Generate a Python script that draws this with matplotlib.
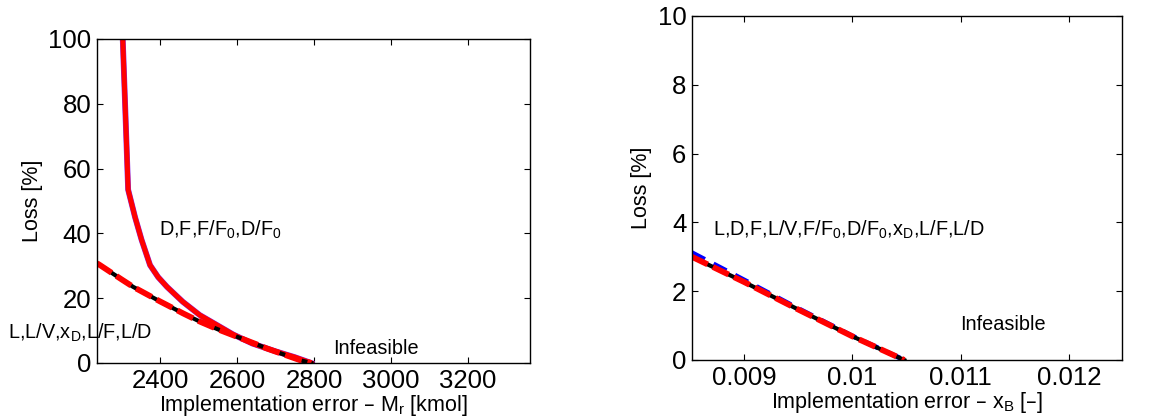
import numpy as np
import matplotlib.pyplot as plt

plt.rcParams['font.family'] = ['Liberation Sans', 'DejaVu Sans']
plt.rcParams['mathtext.default'] = 'regular'

# left panel: loss vs. implementation error in M_r
mr_upper = [2303, 2310, 2317, 2335, 2352, 2374, 2395, 2418, 2459, 2503, 2548, 2590, 2640, 2700, 2750, 2793]
loss_upper = [100, 77, 53.5, 45, 38, 30.2, 26.5, 23.5, 18.9, 14.8, 11.7, 8.8, 6.0, 3.6, 1.8, 0.0]
mr_lower = [2236, 2244, 2300, 2330, 2400, 2418, 2460, 2503, 2550, 2600, 2650, 2677, 2720, 2763, 2793]
loss_lower = [30.8, 30.2, 25.8, 23.5, 19.0, 17.9, 15.3, 12.8, 10.4, 8.1, 5.8, 4.5, 2.7, 0.9, 0.0]

# right panel: loss vs. implementation error in x_B
xb = [0.00852, 0.0090, 0.0095, 0.0100, 0.01048]
loss_xb_red = [3.0, 2.27, 1.47, 0.69, 0.0]
loss_xb_blue = [3.12, 2.33, 1.50, 0.70, 0.0]

fig = plt.figure(figsize=(11.57, 4.17), dpi=100)
ax1 = fig.add_axes([0.0838, 0.1295, 0.3742, 0.777])
ax2 = fig.add_axes([0.598, 0.1367, 0.3717, 0.825])

# left
ax1.plot(mr_upper, loss_upper, color='#8a2be2', lw=4.2)
ax1.plot(mr_upper, loss_upper, color='red', lw=3.6)
ax1.plot(mr_lower, loss_lower, color='black', lw=3)
ax1.plot(mr_lower, loss_lower, color='red', lw=4.2, ls=(0, (3, 1)))
ax1.set_xlim(2236, 3361)
ax1.set_ylim(0, 100)
ax1.set_xticks([2400, 2600, 2800, 3000, 3200])
ax1.set_yticks([0, 20, 40, 60, 80, 100])
ax1.set_xlabel('Implementation error – M$_r$ [kmol]', fontsize=15.5, labelpad=0)
ax1.set_ylabel('Loss [%]', fontsize=15.5)
ax1.text(2397, 41, 'D,F,F/F$_0$,D/F$_0$', fontsize=14.3, va='center')
ax1.text(2005, 9.3, 'L,L/V,x$_D$,L/F,L/D', fontsize=14.3, va='center', clip_on=False)
ax1.text(2849, 4.6, 'Infeasible', fontsize=14.3, va='center')

# right
ax2.plot(xb, loss_xb_blue, color='blue', lw=3.5, ls=(0, (3, 2)))
ax2.plot(xb, loss_xb_red, color='black', lw=3)
ax2.plot(xb, loss_xb_red, color='red', lw=4.2, ls=(0, (3, 1)))
ax2.set_xlim(0.00852, 0.01249)
ax2.set_ylim(0, 10)
ax2.set_xticks([0.009, 0.010, 0.011, 0.012])
ax2.set_xticklabels(['0.009', '0.01', '0.011', '0.012'])
ax2.set_yticks([0, 2, 4, 6, 8, 10])
ax2.set_xlabel('Implementation error – x$_B$ [–]', fontsize=15.5, labelpad=0)
ax2.set_ylabel('Loss [%]', fontsize=15.5)
ax2.text(0.008714, 3.78, 'L,D,F,L/V,F/F$_0$,D/F$_0$,x$_D$,L/F,L/D', fontsize=14.3, va='center')
ax2.text(0.011, 1.02, 'Infeasible', fontsize=14.3, va='center')

for ax in (ax1, ax2):
    ax.tick_params(direction='in', top=True, right=True, labelsize=18.5, length=4, pad=4)
    for s in ax.spines.values():
        s.set_linewidth(1)

fig.savefig('out.png', dpi=100)
